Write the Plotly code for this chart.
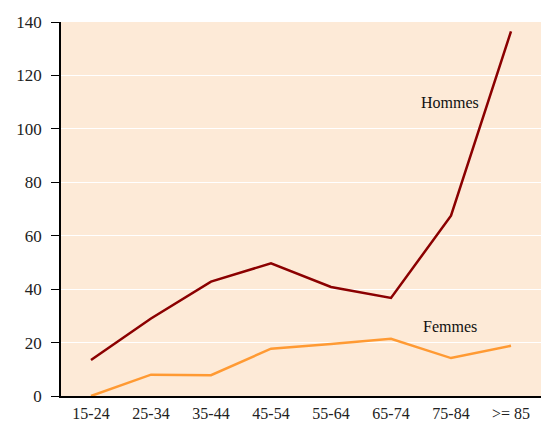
import plotly.graph_objects as go

categories = ["15-24", "25-34", "35-44", "45-54", "55-64", "65-74", "75-84", ">= 85"]
hommes = [13.5, 29, 42.8, 49.7, 40.8, 36.7, 67.5, 136.5]
femmes = [0, 8, 7.8, 17.7, 19.5, 21.4, 14.2, 18.8]

FONT = "Times New Roman, Liberation Serif, serif"

fig = go.Figure()
fig.add_trace(go.Scatter(x=categories, y=hommes, mode="lines", name="Hommes",
                         line=dict(color="#8B0000", width=2.5)))
fig.add_trace(go.Scatter(x=categories, y=femmes, mode="lines", name="Femmes",
                         line=dict(color="#FF9A33", width=2.5)))

fig.add_annotation(x=5.99, y=110, text="Hommes", showarrow=False,
                   font=dict(family=FONT, size=16, color="#111"))
fig.add_annotation(x=5.99, y=26, text="Femmes", showarrow=False,
                   font=dict(family=FONT, size=16, color="#111"))

fig.update_layout(
    width=541, height=417,
    margin=dict(l=53, r=8, t=14, b=29, autoexpand=False),
    paper_bgcolor="white",
    plot_bgcolor="#FDEAD7",
    showlegend=False,
    font=dict(family=FONT, size=17, color="#222"),
)
fig.update_xaxes(type="category", range=[-0.5, 7.5], showgrid=False,
                 showline=True, linecolor="black", linewidth=1.5,
                 ticks="", ticklen=0, zeroline=False, automargin=False,
                 ticklabelstandoff=2, tickfont=dict(size=16))
fig.update_yaxes(range=[0, 140], dtick=20, showgrid=True, gridcolor="white",
                 gridwidth=1, showline=True, linecolor="black", linewidth=1.5,
                 ticks="outside", ticklen=8, tickcolor="black", zeroline=False,
                 automargin=False, ticklabelstandoff=6)

fig.write_html("out.html")
